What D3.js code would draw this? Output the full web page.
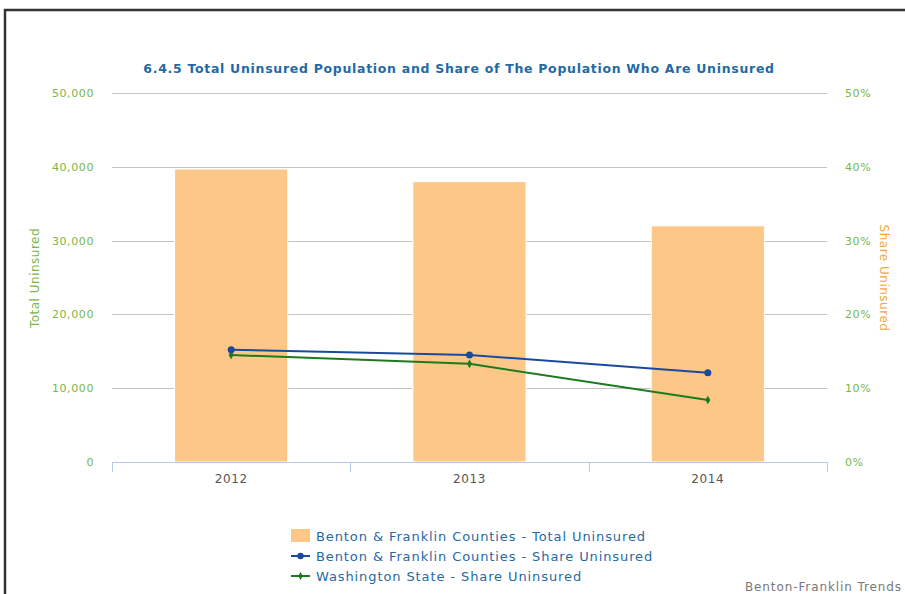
<!DOCTYPE html>
<meta charset="utf-8">
<script src="https://d3js.org/d3.v7.min.js"></script>
<style>
body { margin: 0; background: #fff; }
svg { font-family: "DejaVu Sans", sans-serif; }
.grid line { stroke: #c4c4c4; stroke-width: 1; }
.tick-lbl { fill: #7ab648; font-size: 11px; letter-spacing: 0.6px; }
</style>
<body>
<script>

var years = ["2012", "2013", "2014"]
var totalUninsured = [39700, 38000, 32000]
var bfShare = [15.2, 14.5, 12.1]
var waShare = [14.5, 13.3, 8.4]
var leftTicks = [0, 10000, 20000, 30000, 40000, 50000]
var rightTicks = [0, 10, 20, 30, 40, 50]
var legendLabels = ["Benton & Franklin Counties - Total Uninsured",
                    "Benton & Franklin Counties - Share Uninsured",
                    "Washington State - Share Uninsured"]

var W = 905, H = 594
var plotLeft = 112, plotRight = 827, plotTop = 93, plotBottom = 462

var svg = d3.select("body").append("svg")
  .attr("width", W)
  .attr("height", H)

// frame
svg.append("path")
  .attr("d", "M5,594 V10 H905")
  .attr("fill", "none")
  .attr("stroke", "#333")
  .attr("stroke-width", 2.5)

var x = d3.scaleBand().domain(years).range([plotLeft, plotRight])
var yL = d3.scaleLinear().domain([0, 50000]).range([plotBottom, plotTop])
var yR = d3.scaleLinear().domain([0, 50]).range([plotBottom, plotTop])

// gridlines
svg.append("g")
  .attr("class", "grid")
  .selectAll("line")
  .data(leftTicks.slice(1))
  .enter().append("line")
  .attr("x1", plotLeft).attr("x2", plotRight)
  .attr("y1", function(d) { return Math.round(yL(d)) + 0.5 })
  .attr("y2", function(d) { return Math.round(yL(d)) + 0.5 })

// bars
var bw = x.bandwidth() * 0.475
svg.selectAll(".bar")
  .data(totalUninsured)
  .enter().append("rect")
  .attr("class", "bar")
  .attr("x", function(d, i) { return x(years[i]) + x.bandwidth() / 2 - bw / 2 })
  .attr("y", function(d) { return yL(d) })
  .attr("width", bw)
  .attr("height", function(d) { return plotBottom - yL(d) })
  .attr("fill", "#fdc887")
  .attr("stroke", "#fff")
  .attr("stroke-width", 1)

// x axis
var xAxis = d3.axisBottom(x).tickSize(0).tickPadding(12)
var gx = svg.append("g")
  .attr("transform", "translate(0," + plotBottom + ")")
  .call(xAxis)
gx.select(".domain").attr("stroke", "#b3cbe3")
gx.selectAll("text")
  .attr("fill", "#555")
  .attr("font-size", "12px")
  .attr("letter-spacing", "0.6px")
  .attr("font-family", "DejaVu Sans, sans-serif")
gx.selectAll(".sep")
  .data([plotLeft, plotLeft + x.bandwidth(), plotLeft + 2 * x.bandwidth(), plotRight])
  .enter().append("line")
  .attr("class", "sep")
  .attr("x1", function(d) { return Math.round(d) + 0.5 })
  .attr("x2", function(d) { return Math.round(d) + 0.5 })
  .attr("y1", 0).attr("y2", 10)
  .attr("stroke", "#b3cbe3")

// left axis labels
svg.selectAll(".lt")
  .data(leftTicks)
  .enter().append("text")
  .attr("class", "tick-lbl lt")
  .attr("x", 94)
  .attr("y", function(d) { return yL(d) + 4 })
  .attr("text-anchor", "end")
  .text(function(d) { return d3.format(",")(d) })

// right axis labels
svg.selectAll(".rt")
  .data(rightTicks)
  .enter().append("text")
  .attr("class", "tick-lbl rt")
  .attr("x", 845)
  .attr("y", function(d) { return yR(d) + 4 })
  .text(function(d) { return d + "%" })

// axis titles
svg.append("text")
  .attr("transform", "translate(39,278) rotate(-90)")
  .attr("text-anchor", "middle")
  .attr("fill", "#7ab648")
  .attr("font-size", "12px")
  .attr("letter-spacing", "0.5px")
  .text("Total Uninsured")

svg.append("text")
  .attr("transform", "translate(880,278) rotate(90)")
  .attr("text-anchor", "middle")
  .attr("fill", "#f5a540")
  .attr("font-size", "12px")
  .attr("letter-spacing", "0.5px")
  .text("Share Uninsured")

// lines
var line = d3.line()
  .x(function(d, i) { return x(years[i]) + x.bandwidth() / 2 })
  .y(function(d) { return yR(d) })

svg.append("path")
  .attr("d", line(waShare))
  .attr("fill", "none")
  .attr("stroke", "#1e7a1e")
  .attr("stroke-width", 2)

svg.selectAll(".wa")
  .data(waShare)
  .enter().append("path")
  .attr("class", "wa")
  .attr("transform", function(d, i) { return "translate(" + (x(years[i]) + x.bandwidth() / 2) + "," + yR(d) + ")" })
  .attr("d", d3.symbol(d3.symbolDiamond, 22))
  .attr("fill", "#1e7a1e")

svg.append("path")
  .attr("d", line(bfShare))
  .attr("fill", "none")
  .attr("stroke", "#1a4a9c")
  .attr("stroke-width", 2)

svg.selectAll(".bf")
  .data(bfShare)
  .enter().append("circle")
  .attr("class", "bf")
  .attr("cx", function(d, i) { return x(years[i]) + x.bandwidth() / 2 })
  .attr("cy", function(d) { return yR(d) })
  .attr("r", 3.5)
  .attr("fill", "#1a4a9c")

// title
svg.append("text")
  .attr("x", 459)
  .attr("y", 73)
  .attr("text-anchor", "middle")
  .attr("font-weight", "bold")
  .attr("font-size", "12.5px")
  .attr("letter-spacing", "0.7px")
  .attr("fill", "#1f6aa5")
  .text("6.4.5 Total Uninsured Population and Share of The Population Who Are Uninsured")

// legend
var lg = svg.append("g").attr("transform", "translate(291,536)")
lg.append("rect").attr("x", 0).attr("y", -7).attr("width", 19).attr("height", 13).attr("fill", "#fdc887")
lg.append("line").attr("x1", 0).attr("x2", 19).attr("y1", 20).attr("y2", 20).attr("stroke", "#1a4a9c").attr("stroke-width", 2)
lg.append("circle").attr("cx", 9.5).attr("cy", 20).attr("r", 3.2).attr("fill", "#1a4a9c")
lg.append("line").attr("x1", 0).attr("x2", 19).attr("y1", 40).attr("y2", 40).attr("stroke", "#1e7a1e").attr("stroke-width", 2)
lg.append("path").attr("transform", "translate(9.5,40)").attr("d", d3.symbol(d3.symbolDiamond, 18)).attr("fill", "#1e7a1e")
lg.selectAll(".ll")
  .data(legendLabels)
  .enter().append("text")
  .attr("class", "ll")
  .attr("x", 25)
  .attr("y", function(d, i) { return i * 20 + 5 })
  .attr("fill", "#1f6aa5")
  .attr("font-size", "13px")
  .attr("letter-spacing", "0.9px")
  .text(function(d) { return d })

// credit
svg.append("text")
  .attr("x", 902)
  .attr("y", 591)
  .attr("text-anchor", "end")
  .attr("fill", "#777")
  .attr("font-size", "12px")
  .attr("letter-spacing", "0.9px")
  .text("Benton-Franklin Trends")

</script>
</body>
